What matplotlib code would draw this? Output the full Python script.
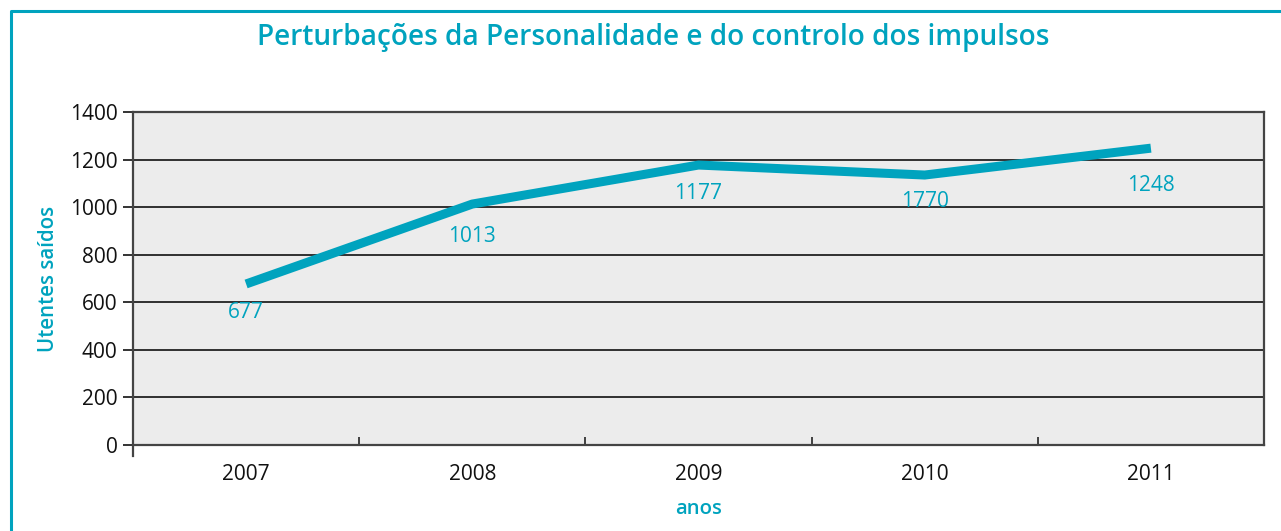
import matplotlib.pyplot as plt
from matplotlib.lines import Line2D

# dados
anos = ["2007", "2008", "2009", "2010", "2011"]
utentes = [677, 1013, 1177, 1135, 1248]
rotulos = ["677", "1013", "1177", "1770", "1248"]
yticks = [0, 200, 400, 600, 800, 1000, 1200, 1400]

TEAL = "#00A3BE"
plt.rcParams["font.family"] = ["Open Sans", "DejaVu Sans"]

W, H = 1281, 531
fig = plt.figure(figsize=(W / 100, H / 100), dpi=100)
ax = fig.add_axes([133 / W, (H - 445) / H, 1131 / W, 333 / H])
ax.set_facecolor("#ECECEC")

x = list(range(len(anos)))
ax.plot(x, utentes, color=TEAL, lw=6.5, solid_capstyle="butt", zorder=3)

# deslocamento dos rótulos em pontos (abaixo da linha)
offsets = [-20.5, -23.5, -20.5, -19, -27]
for xi, yi, lab, dy in zip(x, utentes, rotulos, offsets):
    ax.annotate(lab, (xi, yi), xytext=(0, dy), textcoords="offset points",
                ha="center", va="center", color=TEAL, fontsize=15,
                fontweight="medium", zorder=4)

ax.set_xlim(-0.5, len(anos) - 0.5)
ax.set_ylim(0, 1400)
ax.set_yticks(yticks)
ax.set_xticks(x)
ax.set_xticklabels(anos)
ax.set_xticks([i + 0.5 for i in x[:-1]], minor=True)

ax.tick_params(axis="y", length=7, width=1.4, color="#333333", labelsize=15,
               pad=4, labelcolor="#111111")
ax.tick_params(axis="x", which="major", length=0, pad=14, labelsize=15,
               labelcolor="#111111")
ax.tick_params(axis="x", which="minor", direction="in", length=6, width=1.3,
               color="#333333")

for v in yticks[1:-1]:
    ax.axhline(v, color="#111111", lw=1.2, zorder=1)

for s in ax.spines.values():
    s.set_color("#444444")
    s.set_linewidth(1.6)
ax.spines["left"].set_bounds(-45, 1400)

ax.set_xlabel("anos", color=TEAL, fontsize=14.6, fontweight="semibold", labelpad=10)
ax.set_ylabel("Utentes saídos", color=TEAL, fontsize=14.8, fontweight="semibold",
              labelpad=8)

fig.text(653 / W, 1 - 38 / H, "Perturbações da Personalidade e do controlo dos impulsos",
         ha="center", va="center", color=TEAL, fontsize=20.2, fontweight="semibold")

# moldura
fig.add_artist(Line2D([10.5 / W, 10.5 / W, 1.0], [0.0, 1 - 10.5 / H, 1 - 10.5 / H],
                      transform=fig.transFigure, color=TEAL, lw=2.2))

fig.savefig("out.png", dpi=100)
